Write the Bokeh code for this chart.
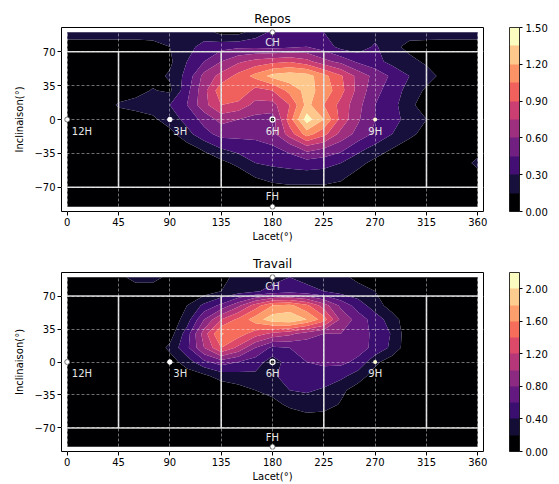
import numpy as np
from bokeh.plotting import figure
from bokeh.layouts import column
from bokeh.models import (ColorBar, LinearColorMapper, FixedTicker,
                          PrintfTickFormatter)
from bokeh.palettes import magma
from bokeh.core.properties import value
from bokeh.embed import file_html
from bokeh.resources import INLINE

# ---------------- data ----------------
lacet = list(range(0, 361, 15))            # x grid (deg)
inclinaison = list(range(90, -91, -15))    # y grid rows, top -> bottom

repos_rows = [
    [0.3,0.3,0.3,0.3,0.3,0.3,0.3,0.28,0.22,0.1,0.1,0.22,0.33,0.38,0.35,0.3,0.25,0.2,0.25,0.22,0.22,0.28,0.3,0.3,0.3],
    [0.0,0.0,0.0,0.0,0.0,0.03,0.15,0.25,0.35,0.4,0.42,0.42,0.4,0.42,0.45,0.38,0.25,0.22,0.32,0.2,0.1,0.03,0.0,0.0,0.0],
    [0.03,0.03,0.03,0.03,0.03,0.03,0.12,0.3,0.45,0.6,0.72,0.8,0.85,0.88,0.8,0.65,0.55,0.42,0.35,0.25,0.2,0.12,0.05,0.03,0.03],
    [0.03,0.03,0.03,0.03,0.05,0.1,0.17,0.35,0.65,0.8,0.95,1.1,1.25,1.3,1.27,1.1,0.92,0.7,0.55,0.42,0.3,0.22,0.1,0.03,0.03],
    [0.03,0.03,0.03,0.05,0.1,0.16,0.12,0.4,0.7,1.0,1.05,0.85,0.9,1.1,1.25,1.15,0.95,0.7,0.5,0.37,0.25,0.12,0.03,0.03,0.03],
    [0.03,0.03,0.05,0.17,0.2,0.22,0.3,0.45,0.7,0.9,0.85,0.7,0.7,0.9,1.25,1.05,0.85,0.65,0.45,0.35,0.2,0.05,0.03,0.03,0.03],
    [0.03,0.03,0.03,0.05,0.08,0.12,0.22,0.35,0.5,0.65,0.6,0.55,0.52,0.98,1.42,1.2,0.85,0.62,0.45,0.35,0.25,0.15,0.03,0.03,0.03],
    [0.03,0.03,0.03,0.03,0.03,0.03,0.1,0.25,0.4,0.5,0.5,0.5,0.55,0.82,1.12,0.95,0.7,0.55,0.42,0.3,0.2,0.08,0.03,0.03,0.03],
    [0.03,0.03,0.03,0.03,0.03,0.03,0.03,0.08,0.18,0.3,0.35,0.38,0.42,0.5,0.66,0.6,0.5,0.35,0.25,0.15,0.05,0.03,0.03,0.03,0.03],
    [0.03,0.03,0.03,0.03,0.03,0.03,0.03,0.03,0.03,0.1,0.2,0.3,0.33,0.35,0.38,0.35,0.3,0.2,0.1,0.03,0.03,0.03,0.03,0.03,0.22],
    [0.03,0.03,0.03,0.03,0.03,0.03,0.03,0.03,0.03,0.03,0.03,0.15,0.2,0.22,0.22,0.22,0.18,0.08,0.03,0.03,0.03,0.03,0.03,0.03,0.03],
    [0.03,0.03,0.03,0.03,0.03,0.03,0.03,0.03,0.03,0.03,0.03,0.03,0.06,0.08,0.08,0.08,0.06,0.03,0.03,0.03,0.03,0.03,0.03,0.03,0.03],
    [0.03,0.03,0.03,0.03,0.03,0.03,0.03,0.03,0.03,0.03,0.03,0.03,0.03,0.03,0.03,0.03,0.03,0.03,0.03,0.03,0.03,0.03,0.03,0.03,0.03],
]

travail_rows = [
    [0.05,0.05,0.05,0.12,0.3,0.3,0.12,0.08,0.1,0.15,0.25,0.3,0.35,0.4,0.35,0.3,0.25,0.15,0.05,0.05,0.05,0.05,0.05,0.05,0.05],
    [0.05,0.05,0.05,0.05,0.05,0.05,0.05,0.05,0.1,0.2,0.3,0.38,0.45,0.5,0.45,0.4,0.32,0.28,0.2,0.05,0.05,0.05,0.05,0.05,0.05],
    [0.05,0.05,0.05,0.05,0.05,0.05,0.05,0.2,0.45,0.65,0.95,1.3,1.6,1.65,1.45,1.1,0.75,0.5,0.3,0.1,0.05,0.05,0.05,0.05,0.05],
    [0.05,0.05,0.05,0.05,0.05,0.05,0.05,0.3,0.8,1.2,1.45,1.7,1.92,1.98,1.8,1.5,0.95,0.72,0.5,0.3,0.05,0.05,0.05,0.05,0.05],
    [0.05,0.05,0.05,0.05,0.05,0.05,0.1,0.5,1.1,1.62,1.5,1.3,1.15,1.05,0.9,0.8,0.8,0.7,0.55,0.38,0.05,0.05,0.05,0.05,0.05],
    [0.05,0.05,0.05,0.05,0.05,0.05,0.25,0.55,1.0,1.4,1.15,0.8,0.55,0.6,0.65,0.7,0.7,0.68,0.55,0.35,0.05,0.05,0.05,0.05,0.05],
    [0.05,0.05,0.05,0.05,0.05,0.05,0.1,0.3,0.55,0.7,0.6,0.5,0.3,0.5,0.6,0.65,0.65,0.55,0.25,0.08,0.05,0.05,0.05,0.05,0.05],
    [0.05,0.05,0.05,0.05,0.05,0.05,0.18,0.08,0.15,0.28,0.32,0.35,0.38,0.45,0.5,0.48,0.45,0.3,0.1,0.05,0.05,0.05,0.05,0.05,0.05],
    [0.05,0.05,0.05,0.05,0.05,0.05,0.05,0.05,0.05,0.05,0.12,0.2,0.28,0.4,0.42,0.38,0.25,0.1,0.05,0.05,0.05,0.05,0.05,0.05,0.05],
    [0.05,0.05,0.05,0.05,0.05,0.05,0.05,0.05,0.05,0.05,0.05,0.05,0.12,0.25,0.32,0.3,0.18,0.05,0.05,0.05,0.05,0.05,0.05,0.05,0.05],
    [0.05,0.05,0.05,0.05,0.05,0.05,0.05,0.05,0.05,0.05,0.05,0.05,0.05,0.05,0.12,0.1,0.05,0.05,0.05,0.05,0.05,0.05,0.05,0.05,0.05],
    [0.05]*25,
    [0.05]*25,
]

repos_levels = [0.0,0.15,0.3,0.45,0.6,0.75,0.9,1.05,1.2,1.35,1.5]
repos_cb_ticks = [0.0,0.3,0.6,0.9,1.2,1.5]
travail_levels = [0.0,0.2,0.4,0.6,0.8,1.0,1.2,1.4,1.6,1.8,2.0,2.2]
travail_cb_ticks = [0.0,0.4,0.8,1.2,1.6,2.0]

x_ticks = [0,45,90,135,180,225,270,315,360]
y_ticks = [-70,-35,0,35,70]
y_tick_labels = {-70: "\u221270", -35: "\u221235", 0: "0", 35: "35", 70: "70"}

zone_x = [45,135,225,315]          # vertical separators
zone_y = [-70,70]                  # horizontal separators

clock_names = ["12H","3H","6H","9H"]
clock_text_x = [4,93,174,264]
clock_text_y = [-12,-12,-12,-12]
pole_names = ["CH","FH"]
pole_x = [180,180]
pole_y = [80,-80]

FONT = "DejaVu Sans"


def panel(title, rows, levels, cb_ticks, h, top, bottom):
    p = figure(width=556, height=h, x_range=(-5, 365), y_range=(-95, 95),
               output_backend="svg", toolbar_location=None, title=title,
               min_border_left=61, min_border_right=73,
               min_border_top=top, min_border_bottom=bottom)
    p.title.align = "center"
    p.title.text_font = FONT
    p.title.text_font_size = "12px"
    p.title.text_font_style = "normal"
    p.title.text_color = "black"
    p.title.standoff = 4
    p.outline_line_color = "black"
    p.outline_line_width = 1
    p.background_fill_color = "white"

    z = np.array(rows, dtype=float)[::-1]
    ys = inclinaison[::-1]
    n = len(levels) - 1
    pal = list(magma(n))
    p.contour(lacet, ys, z, levels, fill_color=pal)

    # zone separators
    p.segment(x0=zone_x, y0=[zone_y[0]] * len(zone_x), x1=zone_x,
              y1=[zone_y[1]] * len(zone_x), line_color="#d9d9d9", line_width=1.6)
    p.segment(x0=[lacet[0]] * 2, y0=zone_y, x1=[lacet[-1]] * 2, y1=zone_y,
              line_color="#d9d9d9", line_width=1.6)

    # markers
    p.scatter(x=[0, 180, 180], y=[0, 90, -90], size=5, fill_color="white",
              line_color="#555555", line_width=0.8)
    p.scatter(x=[90], y=[0], size=4.5, fill_color="white", line_color="white")
    p.scatter(x=[180], y=[0], size=5, fill_color="black", line_color="white",
              line_width=1.3)
    p.scatter(x=[270], y=[0], size=4, fill_color="#ffffcc", line_color=None)

    p.text(x=clock_text_x, y=clock_text_y, text=clock_names,
           text_font=value(FONT), text_font_size="10px", text_color="#e6e6e6",
           text_align="left", text_baseline="middle")
    p.text(x=pole_x, y=pole_y, text=pole_names,
           text_font=value(FONT), text_font_size="10px", text_color="#e6e6e6",
           text_align="center", text_baseline="middle")

    for ax in (p.xaxis, p.yaxis):
        ax.axis_line_color = None
        ax.major_tick_line_color = "black"
        ax.major_tick_out = 4
        ax.major_tick_in = 0
        ax.minor_tick_line_color = None
        ax.major_label_text_font = FONT
        ax.major_label_text_font_size = "10px"
        ax.major_label_text_color = "black"
        ax.major_label_standoff = 2
        ax.axis_label_text_font = FONT
        ax.axis_label_text_font_size = "10px"
        ax.axis_label_text_font_style = "normal"
        ax.axis_label_text_color = "black"
        ax.axis_label_standoff = 2
    p.yaxis.axis_label_standoff = 6
    p.xaxis.ticker = FixedTicker(ticks=x_ticks)
    p.yaxis.ticker = FixedTicker(ticks=y_ticks)
    p.yaxis.major_label_overrides = y_tick_labels
    p.xaxis.axis_label = "Lacet(\u00b0)"
    p.yaxis.axis_label = "Inclinaison(\u00b0)"

    p.xgrid.ticker = FixedTicker(ticks=x_ticks)
    p.ygrid.ticker = FixedTicker(ticks=y_ticks)
    for g in (p.xgrid, p.ygrid):
        g.grid_line_color = "white"
        g.grid_line_alpha = 0.55
        g.grid_line_dash = "3 2"
        g.grid_line_width = 0.8
        g.level = "guide"

    cmap = LinearColorMapper(palette=pal, low=levels[0], high=levels[-1])
    cb = ColorBar(color_mapper=cmap, ticker=FixedTicker(ticks=cb_ticks),
                  formatter=PrintfTickFormatter(format="%.2f"),
                  width=10, padding=0, margin=0, location=(26, 0),
                  bar_line_color="black", bar_line_width=0.8,
                  major_tick_in=0, major_tick_out=3,
                  major_tick_line_color="black",
                  minor_tick_line_color=None,
                  major_label_text_font=FONT,
                  major_label_text_font_size="10px",
                  major_label_text_color="black",
                  label_standoff=3, border_line_color=None,
                  background_fill_color=None)
    p.add_layout(cb, "right")
    return p


p1 = panel("Repos", repos_rows, repos_levels, repos_cb_ticks, 244, 27, 33)
p2 = panel("Travail", travail_rows, travail_levels, travail_cb_ticks, 240, 28, 31)

layout = column(p1, p2)
open("out.html", "w").write(file_html(layout, INLINE))
